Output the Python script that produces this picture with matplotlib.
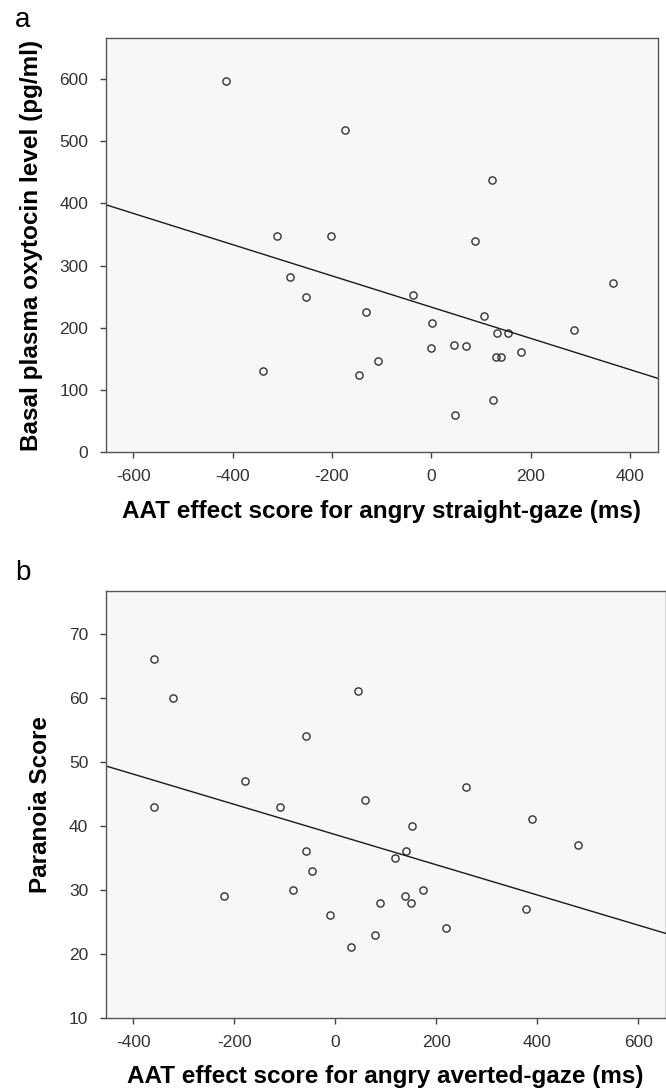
import numpy as np
import matplotlib
matplotlib.use("Agg")
import matplotlib.pyplot as plt

plt.rcParams["axes.unicode_minus"] = False

# panel a: AAT straight-gaze vs basal oxytocin
straight_gaze = [-413, -173, 123, -311, -203, 87, -285, 365, -253, -37,
                 -132, 106, 2, 132, 154, 288, -1, 45, 70, 180,
                 130, 140, -108, -145, -339, 124, 47]
oxytocin = [597, 518, 438, 348, 347, 340, 282, 272, 249, 253,
            226, 218, 207, 191, 192, 196, 168, 172, 171, 161,
            153, 153, 146, 124, 130, 84, 59]

# panel b: AAT averted-gaze vs paranoia
averted_gaze = [-359, -321, 45, -59, -179, 259, -360, -110, 58, 389,
                152, 481, -59, 140, 118, -46, -220, -83, 173, 138,
                89, 150, 377, -10, 220, 79, 30]
paranoia = [66, 60, 61, 54, 47, 46, 43, 43, 44, 41,
            40, 37, 36, 36, 35, 33, 29, 30, 30, 29,
            28, 28, 27, 26, 24, 23, 21]

W, H = 666, 1089
fig = plt.figure(figsize=(W / 100, H / 100), dpi=100)

tick_font = {"family": "Liberation Sans", "size": 12.5}
label_font = {"family": "Liberation Sans", "size": 17.5, "weight": "bold"}


def scatter_panel(ax, x, y, xlim, ylim, xticks, yticks, xlabel, ylabel):
    ax.set_facecolor("#f7f7f7")
    ax.plot(x, y, "o", ms=5.2, mfc="none", mec="#333333", mew=1.0)
    # least-squares fit line across the whole x range
    slope, icpt = np.polyfit(x, y, 1)
    xs = np.array(xlim)
    ax.plot(xs, slope * xs + icpt, color="#1a1a1a", lw=1.0)
    ax.set_xlim(xlim)
    ax.set_ylim(ylim)
    ax.set_xticks(xticks)
    ax.set_yticks(yticks)
    for lab in ax.get_xticklabels() + ax.get_yticklabels():
        lab.set_fontfamily(tick_font["family"])
        lab.set_fontsize(tick_font["size"])
        lab.set_color("#333333")
    ax.tick_params(direction="out", length=4.5, width=1.0, color="#444444")
    ax.tick_params(axis="x", pad=8)
    ax.tick_params(axis="y", pad=8)
    for sp in ax.spines.values():
        sp.set_color("#555555")
        sp.set_linewidth(1.0)
    ax.set_xlabel(xlabel, labelpad=11, **label_font)
    ax.set_ylabel(ylabel, labelpad=12, **label_font)


ax1 = fig.add_axes([105.7 / W, 1 - 452 / H, 552 / W, 414 / H])
scatter_panel(ax1, straight_gaze, oxytocin, (-656, 456), (0, 666),
              range(-600, 401, 200), range(0, 601, 100),
              "AAT effect score for angry straight-gaze (ms)",
              "Basal plasma oxytocin level (pg/ml)")

ax2 = fig.add_axes([105.7 / W, 1 - 1017.7 / H, 559.8 / W, 426.7 / H])
scatter_panel(ax2, averted_gaze, paranoia, (-455, 654), (10, 76.7),
              range(-400, 601, 200), range(10, 71, 10),
              "AAT effect score for angry averted-gaze (ms)",
              "Paranoia Score")

fig.text(15 / W, 1 - 27 / H, "a", fontsize=20, family="Liberation Sans",
         va="baseline")
fig.text(15 / W, 1 - 580 / H, "b", fontsize=20, family="Liberation Sans",
         va="baseline")

fig.savefig("out.png", dpi=100)
